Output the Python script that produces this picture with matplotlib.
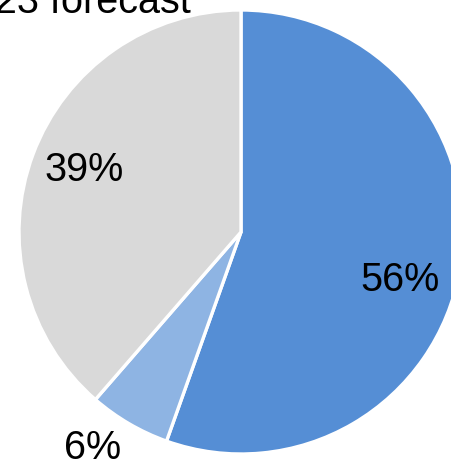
import numpy as np
import matplotlib
matplotlib.use("Agg")
import matplotlib.pyplot as plt

plt.rcParams["font.family"] = ["Liberation Sans", "DejaVu Sans"]

# data
shares = [56, 6, 39]
labels = ["56%", "6%", "39%"]
colors = ["#558ed5", "#8eb4e3", "#d9d9d9"]
title = "2023 forecast"

# label placement (angle in degrees, radius as fraction of pie radius)
label_pos = [(-16.8, 0.75), (-124.5, 1.18), (158.3, 0.76)]

W, H = 452, 468
fig = plt.figure(figsize=(W / 100, H / 100), dpi=100)
cx, cy, r = 241, 232, 222
ax = fig.add_axes([(cx - r) / W, (H - cy - r) / H, 2 * r / W, 2 * r / H])
ax.pie(shares, colors=colors, startangle=90, counterclock=False,
       wedgeprops=dict(edgecolor="white", linewidth=2.4))
ax.set_xlim(-1, 1)
ax.set_ylim(-1, 1)
ax.set_aspect("equal")
ax.axis("off")

for lab, (ang, rad) in zip(labels, label_pos):
    a = np.deg2rad(ang)
    ax.text(rad * np.cos(a), rad * np.sin(a), lab, ha="center", va="center",
            fontsize=28.5, color="black")

fig.text(191 / W, 1 - 13 / H, title, ha="right", va="baseline",
         fontsize=28.5, color="black")

fig.savefig("out.png", dpi=100)
